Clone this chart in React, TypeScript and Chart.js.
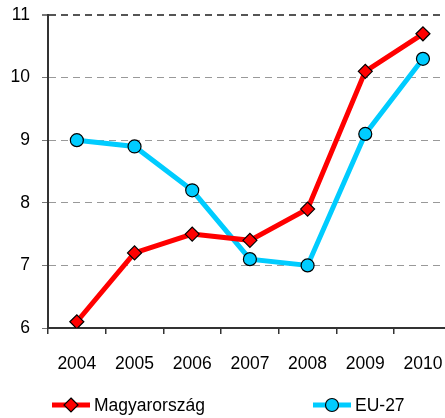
import React, { useEffect, useRef } from "react";
import { Chart, registerables } from "chart.js";

Chart.register(...registerables);

const years = ["2004", "2005", "2006", "2007", "2008", "2009", "2010"];
const magyar = [6.1, 7.2, 7.5, 7.4, 7.9, 10.1, 10.7];
const eu27 = [9.0, 8.9, 8.2, 7.1, 7.0, 9.1, 10.3];
const seriesNames = ["Magyarország", "EU-27"];
const yMin = 6;
const yMax = 11;

const RED = "#ff0000";
const CYAN = "#00ccff";
const FONT = "'Liberation Sans', Arial, sans-serif";

const legendPlugin = {
  id: "lineLegend",
  afterDraw(chart: any) {
    const ctx = chart.ctx;
    const ca = chart.chartArea;
    const y = chart.height - 13;
    const items = [
      { x: ca.left + 4, color: RED, style: "rectRot", r: 7, label: seriesNames[0] },
      { x: ca.left + 265, color: CYAN, style: "circle", r: 6.5, label: seriesNames[1] },
    ];
    ctx.save();
    for (const it of items) {
      ctx.strokeStyle = it.color;
      ctx.lineWidth = 5;
      ctx.beginPath();
      ctx.moveTo(it.x, y);
      ctx.lineTo(it.x + 38, y);
      ctx.stroke();
      ctx.fillStyle = it.color;
      ctx.strokeStyle = "#000";
      ctx.lineWidth = 1.2;
      ctx.beginPath();
      const cx = it.x + 19;
      if (it.style === "circle") {
        ctx.arc(cx, y, it.r, 0, Math.PI * 2);
      } else {
        ctx.moveTo(cx, y - it.r);
        ctx.lineTo(cx + it.r, y);
        ctx.lineTo(cx, y + it.r);
        ctx.lineTo(cx - it.r, y);
        ctx.closePath();
      }
      ctx.fill();
      ctx.stroke();
      ctx.fillStyle = "#000";
      ctx.font = `17.5px ${FONT}`;
      ctx.textBaseline = "middle";
      ctx.textAlign = "left";
      ctx.fillText(it.label, it.x + 42, y + 1);
    }
    ctx.restore();
  },
};

export default function App() {
  const ref = useRef<HTMLCanvasElement>(null);
  useEffect(() => {
    if (!ref.current) return;
    const chart = new Chart(ref.current, {
      type: "line",
      data: {
        labels: years,
        datasets: [
          {
            label: seriesNames[0],
            data: magyar,
            borderColor: RED,
            backgroundColor: RED,
            borderWidth: 5,
            pointStyle: "rectRot",
            pointRadius: 7,
            pointBorderColor: "#000",
            pointBorderWidth: 1.2,
            pointBackgroundColor: RED,
            tension: 0,
          },
          {
            label: seriesNames[1],
            data: eu27,
            borderColor: CYAN,
            backgroundColor: CYAN,
            borderWidth: 5,
            pointStyle: "circle",
            pointRadius: 6.5,
            pointBorderColor: "#000",
            pointBorderWidth: 1.2,
            pointBackgroundColor: CYAN,
            tension: 0,
          },
        ],
      },
      options: {
        animation: false,
        responsive: false,
        maintainAspectRatio: false,
        layout: { padding: { left: 0, right: 6, top: 15, bottom: 0 } },
        plugins: { legend: { display: false }, tooltip: { enabled: false } },
        scales: {
          x: {
            offset: true,
            grid: {
              offset: true,
              drawOnChartArea: false,
              drawTicks: true,
              tickLength: 6,
              color: "#333",
              lineWidth: 1.5,
            },
            border: { display: true, color: "#333", width: 2 },
            ticks: {
              color: "#000",
              font: { family: FONT, size: 17.5 },
              padding: 20,
              maxRotation: 0,
            },
            afterFit(scale: any) {
              scale.height = 90;
              scale.paddingLeft = 0;
              scale.paddingRight = 0;
            },
          },
          y: {
            min: yMin,
            max: yMax,
            grid: {
              drawOnChartArea: true,
              drawTicks: true,
              tickLength: 6,
              color: (c: any) => (c.tick && c.tick.value === yMax ? "#555" : "#999"),
              lineWidth: (c: any) => (c.tick && c.tick.value === yMax ? 2 : 1),
              tickColor: "#777",
              tickBorderDash: [],
            },
            border: { display: true, color: "#333", width: 2, dash: [7, 5] },
            ticks: {
              stepSize: 1,
              color: "#000",
              font: { family: FONT, size: 17.5 },
              padding: 12,
            },
            afterFit(scale: any) {
              scale.width = 48;
              scale.paddingTop = 0;
              scale.paddingBottom = 0;
            },
          },
        },
      },
      plugins: [legendPlugin],
    });
    return () => chart.destroy();
  }, []);
  return (
    <div style={{ position: "fixed", left: 0, top: 0, width: 445, height: 418, overflow: "hidden", background: "#fff" }}>
      <canvas ref={ref} width={460} height={418} style={{ display: "block", width: 460, height: 418 }} />
    </div>
  );
}
